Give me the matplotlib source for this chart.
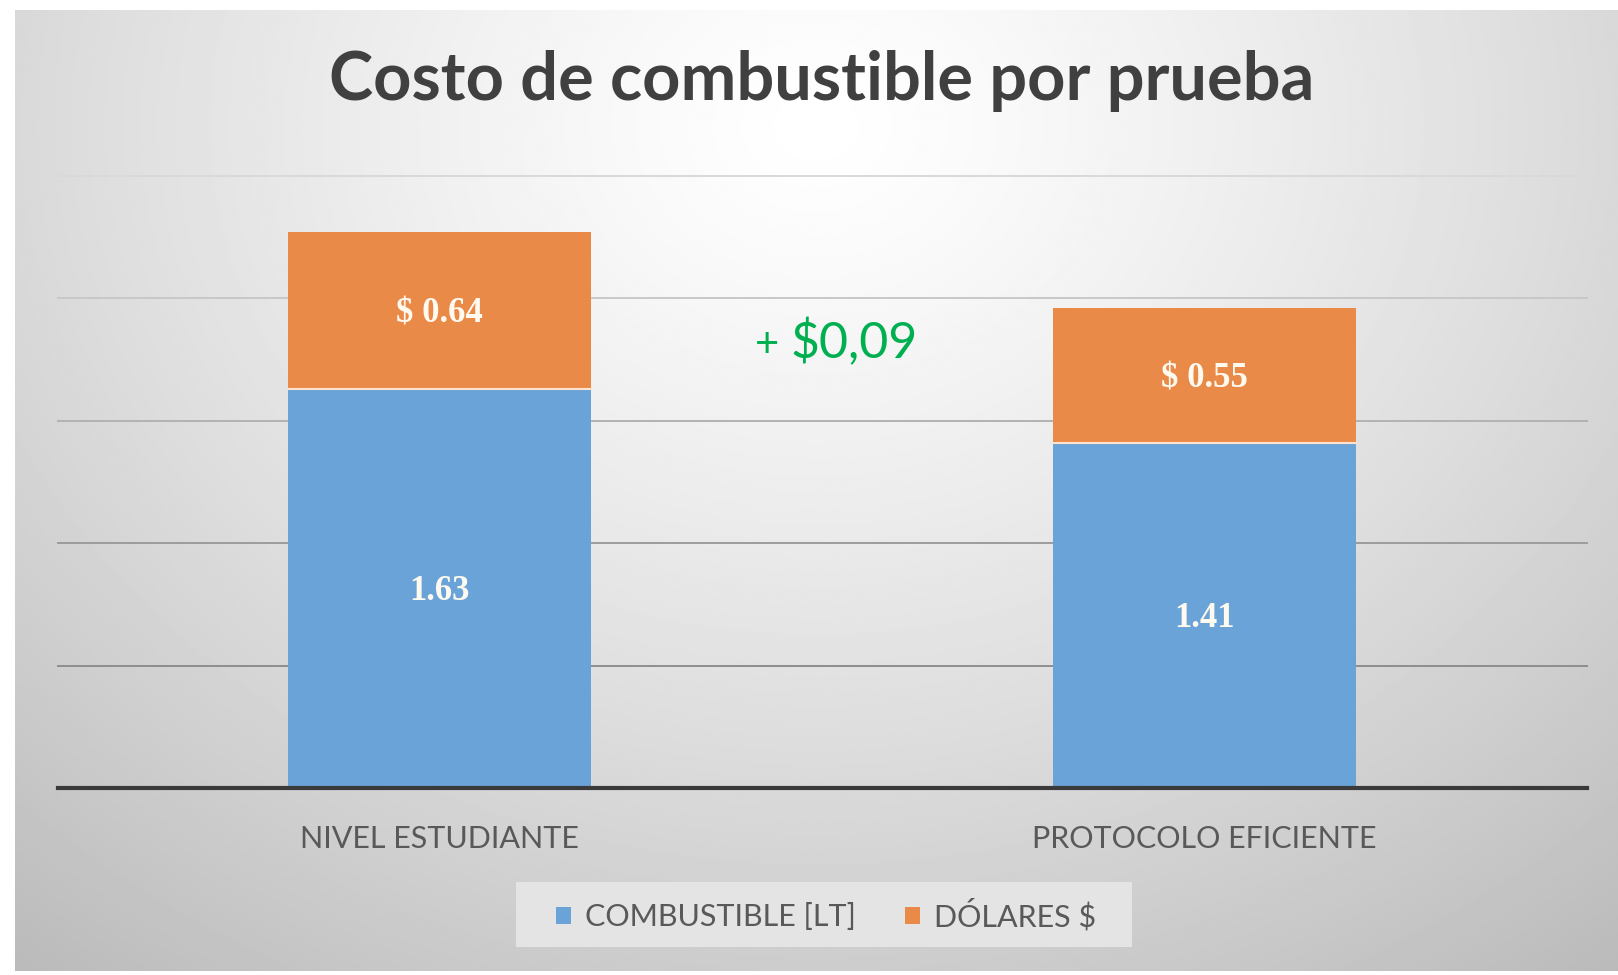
import numpy as np
import matplotlib
matplotlib.use("Agg")
import matplotlib.pyplot as plt
from matplotlib.patches import Rectangle

# Datos del gráfico
categorias = ["NIVEL ESTUDIANTE", "PROTOCOLO EFICIENTE"]
combustible_lt = [1.63, 1.41]
dolares = [0.64, 0.55]
diferencia = "+ $0,09"

W, H = 1618, 975
fig = plt.figure(figsize=(W / 100, H / 100), dpi=100)
fig.patch.set_facecolor("white")

# Fondo del panel con degradado radial (blanco arriba al centro, gris en los bordes)
bg = fig.add_axes([15 / W, 4 / H, (W - 15) / W, (971 - 10) / H])
ny, nx = 400, 700
yy, xx = np.mgrid[0:1:ny * 1j, 0:1:nx * 1j]
r = np.sqrt(((xx - 0.5) / 0.75) ** 2 + ((yy - 0.12) / 1.05) ** 2)
r = np.clip(r / r.max(), 0, 1)
val = 1.0 - 0.27 * r ** 1.25
bg.imshow(val, cmap="gray", vmin=0, vmax=1, aspect="auto", extent=[0, 1, 1, 0])
bg.set_axis_off()

# Área del gráfico
ax = fig.add_axes([57.5 / W, (H - 788) / H, (1587 - 57.5) / W, (788 - 175.5) / H])
ax.patch.set_alpha(0)
x = np.arange(len(categorias))
ancho = 0.396

ax.set_ylim(0, 2.5)
ax.set_xlim(-0.5, 1.5)
# líneas de división, más oscuras hacia abajo
grid_cols = ["#8e8e8e", "#9c9c9c", "#b2b2b2", "#c8c8c8", "#d9d9d9"]
for g, c in zip(np.arange(0.5, 2.51, 0.5), grid_cols):
    ax.axhline(g, color=c, lw=1.4, zorder=1, clip_on=False)

azul = "#6aa3d7"
naranja = "#ea8a48"
b1 = ax.bar(x, combustible_lt, ancho, color=azul, zorder=2, label="COMBUSTIBLE [LT]")
b2 = ax.bar(x, dolares, ancho, bottom=combustible_lt, color=naranja, zorder=2,
            label="DÓLARES $")
# línea clara entre segmentos
for xi, v in zip(x, combustible_lt):
    ax.plot([xi - ancho / 2, xi + ancho / 2], [v, v], color="#fbe3cf", lw=1.5, zorder=3)

ax.axhline(0, color="#3a3a3a", lw=3, zorder=4, clip_on=False)

etiqueta = dict(ha="center", va="center", color="#fffaf0", fontsize=25,
                fontweight="bold", family="Liberation Serif", zorder=5)
for xi, c, d in zip(x, combustible_lt, dolares):
    ax.text(xi, c / 2 - 0.015, f"{c:.2f}", **etiqueta)
    ax.text(xi, c + d / 2 - 0.015, f"$ {d:.2f}", **etiqueta)

for s in ax.spines.values():
    s.set_visible(False)
ax.set_yticks([])
ax.set_xticks(x)
ax.set_xticklabels(categorias, fontsize=22, color="#595959", family="Lato")
ax.tick_params(axis="x", length=0, pad=27)

# diferencia de costo entre las dos pruebas
signo, monto = diferencia.split(" ")
ax.text(0.458, 1.81, signo + " ", ha="right", va="center", color="#00b050",
        fontsize=30, family="Lato", zorder=5)
ax.text(0.458, 1.815, monto, ha="left", va="center", color="#00b050",
        fontsize=36, family="Lato", zorder=5)

fig.text(822 / W, 1 - 81 / H, "Costo de combustible por prueba", ha="center",
         va="center", fontsize=48, fontweight="bold", color="#404040", family="Lato")

# Leyenda
fig.patches.append(Rectangle((516 / W, 1 - 947 / H), (1132 - 516) / W, (947 - 882) / H,
                             transform=fig.transFigure, facecolor="#e4e4e4",
                             edgecolor="none", zorder=0))
leg = fig.legend(handles=[b1, b2], loc="center", bbox_to_anchor=(826 / W, 1 - 915 / H),
                 ncol=2, frameon=False, handlelength=0.5, handleheight=0.5,
                 handletextpad=0.45, columnspacing=1.6, prop={"family": "Lato", "size": 22})
for t in leg.get_texts():
    t.set_color("#595959")

fig.savefig("out.png", dpi=100)
